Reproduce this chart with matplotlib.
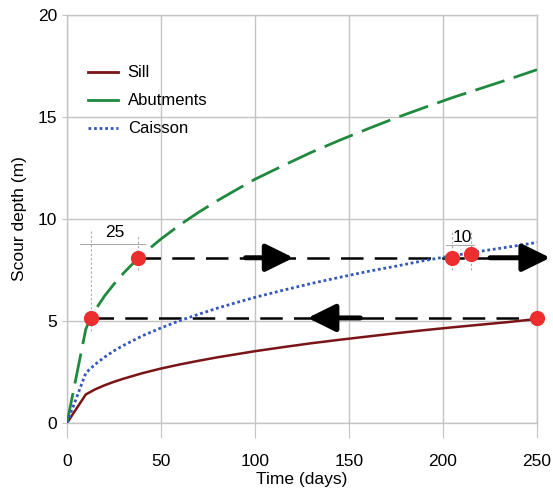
import matplotlib
matplotlib.use("Agg")
import matplotlib.pyplot as plt
from matplotlib.lines import Line2D

plt.rcParams['font.family'] = ['Liberation Sans', 'DejaVu Sans']

days = [0, 10, 15, 20, 25, 30, 40, 50, 60, 70, 80, 90, 100, 115, 130, 145, 160, 175, 190, 205, 220, 235, 250]
sill = [0, 1.40, 1.65, 1.85, 2.02, 2.17, 2.44, 2.67, 2.87, 3.05, 3.22, 3.37, 3.52, 3.72, 3.91, 4.08,
        4.24, 4.40, 4.55, 4.69, 4.82, 4.95, 5.10]
caisson = [0, 2.45, 2.88, 3.23, 3.54, 3.80, 4.27, 4.66, 5.02, 5.33, 5.63, 5.90, 6.16, 6.51, 6.84, 7.14,
           7.43, 7.69, 7.96, 8.20, 8.42, 8.63, 8.85]
abut_days = [0, 10, 12.5, 15, 20, 25, 30, 37.5, 45, 50, 60, 70, 80, 90, 100, 115, 130, 145, 160, 175,
             190, 205, 220, 235, 250]
abutments = [0, 4.6, 5.15, 5.54, 6.23, 6.81, 7.34, 8.05, 8.64, 9.02, 9.71, 10.33, 10.90, 11.43, 11.95,
             12.62, 13.27, 13.86, 14.42, 14.96, 15.46, 15.95, 16.40, 16.85, 17.32]

marker_x = [12.5, 37.5, 205, 215, 250]
marker_y = [5.15, 8.1, 8.1, 8.3, 5.15]

upper_level = 8.1
lower_level = 5.15

fig = plt.figure(figsize=(5.53, 4.91), dpi=100)
ax = fig.add_axes([67/553, 1-423/491, 470/553, 408/491])

grey = '#c4c4c4'
fs = 12
ax.set_xlim(0, 250)
ax.set_ylim(0, 20)
ax.set_xticks([0, 50, 100, 150, 200, 250])
ax.set_yticks([0, 5, 10, 15, 20])
ax.grid(True, color=grey, lw=1)
for s in ax.spines.values():
    s.set_color(grey)
    s.set_linewidth(1)
ax.tick_params(axis='x', length=10.5, color=grey, pad=12, labelsize=fs + 0.5)
ax.tick_params(axis='y', length=3.6, color=grey, pad=3.5, labelsize=fs + 0.5)

# dashed black lines
ax.plot([37.5, 250], [upper_level]*2, color='black', lw=1.8, dashes=(9, 4.5), zorder=3)
ax.plot([12.5, 250], [lower_level]*2, color='black', lw=1.8, dashes=(9, 4.5), zorder=3)

# data series
sill_color = '#7a1416'
abut_color = '#1f8a3e'
cais_color = '#3358bb'
ax.plot(days, sill, color=sill_color, lw=1.8, zorder=4)
ax.plot(abut_days, abutments, color=abut_color, lw=2, dashes=(11, 3.5), zorder=4)
ax.plot(days, caisson, color=cais_color, lw=2, linestyle=(0, (1, 1)), zorder=4)

ax.scatter(marker_x, marker_y, s=120, color='#ee2e2e', zorder=6, clip_on=False, linewidths=0)

# arrows
ap = dict(arrowstyle='-|>,head_length=0.85,head_width=0.42', lw=3.6, color='black',
          mutation_scale=20, shrinkA=0, shrinkB=0)
ax.annotate('', xy=(120.5, upper_level), xytext=(95, upper_level), arrowprops=ap, zorder=5, annotation_clip=False)
ax.annotate('', xy=(128, lower_level), xytext=(156, lower_level), arrowprops=ap, zorder=5, annotation_clip=False)
ax.annotate('', xy=(257, upper_level), xytext=(225, upper_level), arrowprops=ap, zorder=5, annotation_clip=False)

# dimension annotations
dim_c = '#aaaaaa'
ax.plot([12.5, 12.5], [4.5, 9.5], color=dim_c, lw=0.8, ls=(0, (2, 2)), zorder=2)
ax.plot([37.5, 37.5], [7.5, 9.2], color=dim_c, lw=0.8, ls=(0, (2, 2)), zorder=2)
ax.plot([7, 41.5], [8.77, 8.77], color=dim_c, lw=0.8, zorder=2)
ax.text(25.5, 8.95, '25', ha='center', va='bottom', fontsize=fs + 0.5)
ax.plot([205, 205], [7.5, 9.35], color=dim_c, lw=0.8, ls=(0, (2, 2)), zorder=2)
ax.plot([215, 215], [7.5, 9.35], color=dim_c, lw=0.8, ls=(0, (2, 2)), zorder=2)
ax.plot([201.5, 216.5], [8.73, 8.73], color=dim_c, lw=0.8, zorder=2)
ax.text(210.5, 8.75, '10', ha='center', va='bottom', fontsize=fs + 0.5)

ax.set_xlabel('Time (days)', fontsize=fs + 0.5, labelpad=2)
ax.set_ylabel('Scour depth (m)', fontsize=fs + 0.5, labelpad=8)

handles = [Line2D([], [], color=sill_color, lw=2),
           Line2D([], [], color=abut_color, lw=2),
           Line2D([], [], color=cais_color, lw=2, linestyle=(0, (1, 1)))]
ax.legend(handles, ['Sill', 'Abutments', 'Caisson'], loc='upper left', bbox_to_anchor=(0.012, 0.913),
          frameon=False, fontsize=fs, handlelength=1.8, handletextpad=0.6, labelspacing=0.78)

fig.savefig('out.png', dpi=100)
